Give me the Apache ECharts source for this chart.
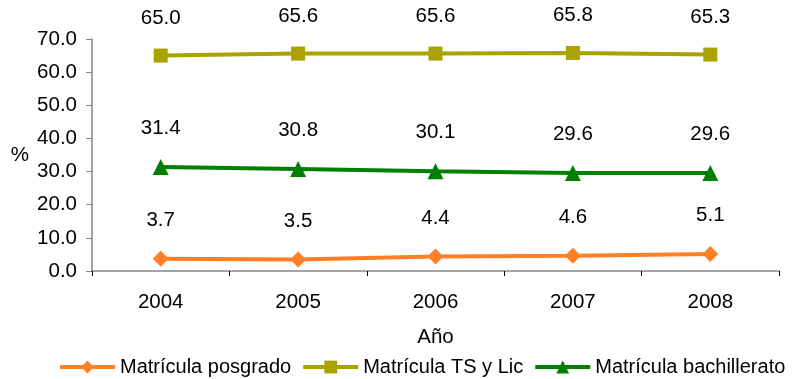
<!DOCTYPE html>
<html><head><meta charset="utf-8">
<script src="https://cdn.jsdelivr.net/npm/echarts@6/dist/echarts.min.js"></script>
<style>html,body{margin:0;padding:0;background:#fff}#c{width:798px;height:379px}</style>
</head><body><div id="c"></div>
<script>
const years = ['2004','2005','2006','2007','2008'];
const posgrado = [3.7, 3.5, 4.4, 4.6, 5.1];
const tsLic = [65.0, 65.6, 65.6, 65.8, 65.3];
const bachillerato = [31.4, 30.8, 30.1, 29.6, 29.6];
const seriesNames = ['Matrícula posgrado', 'Matrícula TS y Lic', 'Matrícula bachillerato'];
const yTicks = [0, 10, 20, 30, 40, 50, 60, 70];

const font = 'Liberation Sans, Arial, sans-serif';
const fs = 20.5;
const chart = echarts.init(document.getElementById('c'), null, {renderer: 'canvas'});
function mk(name, data, color, symbol, size) {
  return {
    name, type: 'line', data, symbol, symbolSize: size,
    lineStyle: {color, width: 4}, itemStyle: {color},
    label: {show: true, position: 'top', distance: 20, color: '#000', fontSize: fs, fontFamily: font,
      formatter: p => p.value.toFixed(1)},
    emphasis: {disabled: true}, animation: false
  };
}
chart.setOption({
  animation: false,
  grid: {left: 92, right: 19, top: 39, bottom: 108, containLabel: false},
  legend: {
    top: 357, left: 58, width: 780, padding: 0, itemWidth: 55, itemHeight: 16, itemGap: 10,
    lineStyle: {width: 4},
    textStyle: {fontSize: 20, fontFamily: font, color: '#000'},
    data: seriesNames
  },
  xAxis: {
    type: 'category', data: years, boundaryGap: true,
    name: 'Año', nameLocation: 'middle', nameGap: 56,
    nameTextStyle: {fontSize: fs, fontFamily: font, color: '#000'},
    axisLine: {lineStyle: {color: '#868686', width: 1.5}},
    axisTick: {show: true, length: 5, lineStyle: {color: '#000'}},
    axisLabel: {fontSize: fs, fontFamily: font, color: '#000', margin: 21}
  },
  yAxis: {
    type: 'value', min: 0, max: 70, interval: 10,
    name: '%', nameLocation: 'middle', nameGap: 63, nameRotate: 0,
    nameTextStyle: {fontSize: fs, fontFamily: font, color: '#000'},
    axisLine: {show: true, lineStyle: {color: '#868686', width: 1.5}},
    axisTick: {show: true, length: 6, lineStyle: {color: '#868686'}},
    splitLine: {show: false},
    axisLabel: {fontSize: fs, fontFamily: font, color: '#000', margin: 15,
      formatter: v => yTicks.includes(v) ? v.toFixed(1) : ''}
  },
  series: [
    mk(seriesNames[0], posgrado, '#FF7F27', 'diamond', 16),
    mk(seriesNames[1], tsLic, '#A9A200', 'rect', 14),
    mk(seriesNames[2], bachillerato, '#008000', 'triangle', 16)
  ]
});
</script></body></html>
